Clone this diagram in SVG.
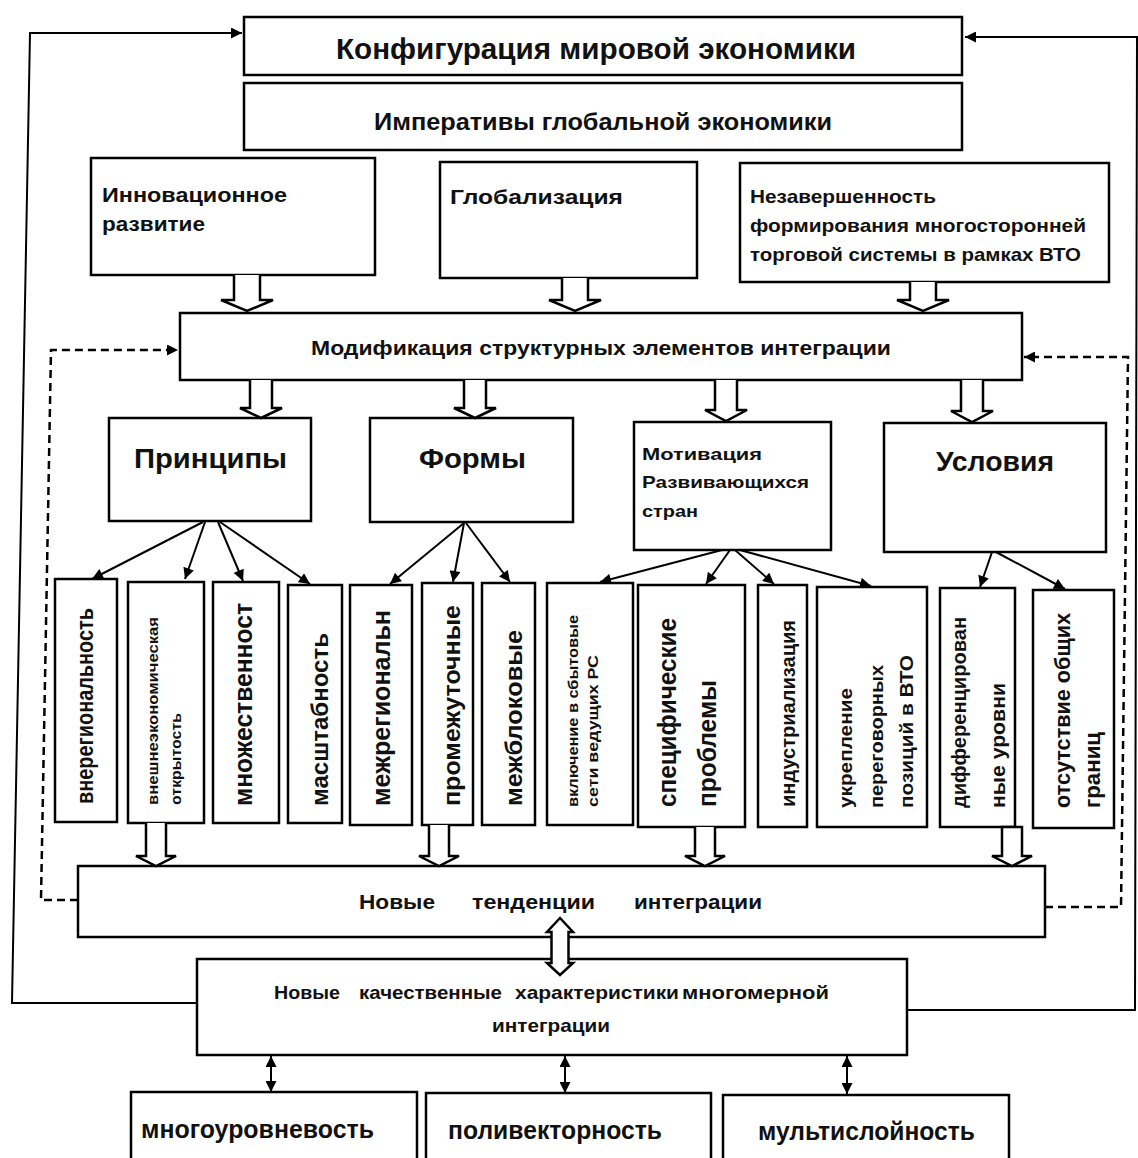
<svg xmlns="http://www.w3.org/2000/svg" width="1138" height="1158" viewBox="0 0 1138 1158">
<style>
.box{fill:#fff;stroke:#000;stroke-width:2.5}
.t{font-family:"Liberation Sans",Arial,sans-serif;font-weight:bold;fill:#111}
.ln{stroke:#000;stroke-width:2;fill:none}
.dash{stroke:#000;stroke-width:2.5;stroke-dasharray:8 5;fill:none}
.blk{fill:#fff;stroke:#000;stroke-width:2.5;stroke-linejoin:miter}
</style>
<defs>
<marker id="ah" viewBox="0 0 10 10" refX="10" refY="5" markerWidth="12" markerHeight="11" markerUnits="userSpaceOnUse" orient="auto-start-reverse"><path d="M0,0 L10,5 L0,10 z" fill="#000"/></marker>
</defs>
<rect width="1138" height="1158" fill="#fff"/>

<g id="connectors">
<path class="ln" d="M197,1003 L12,1003 L30,33 L242,33" marker-end="url(#ah)"/>
<path class="ln" d="M907,1010 L1135,1010 L1137,37 L965,37" marker-end="url(#ah)"/>
<path class="dash" d="M78,900 L41,900 L51,350 L178,350" marker-end="url(#ah)"/>
<path class="dash" d="M1045,907 L1121,907 L1128,357 L1024,357" marker-end="url(#ah)"/>
<line class="ln" x1="203" y1="522" x2="92" y2="579" marker-end="url(#ah)"/>
<line class="ln" x1="205" y1="522" x2="185" y2="579" marker-end="url(#ah)"/>
<line class="ln" x1="218" y1="522" x2="243" y2="581" marker-end="url(#ah)"/>
<line class="ln" x1="220" y1="522" x2="310" y2="584" marker-end="url(#ah)"/>
<line class="ln" x1="464" y1="523" x2="390" y2="584" marker-end="url(#ah)"/>
<line class="ln" x1="464" y1="523" x2="453" y2="582" marker-end="url(#ah)"/>
<line class="ln" x1="466" y1="523" x2="510" y2="582" marker-end="url(#ah)"/>
<line class="ln" x1="722" y1="550" x2="600" y2="582" marker-end="url(#ah)"/>
<line class="ln" x1="730" y1="550" x2="706" y2="584" marker-end="url(#ah)"/>
<line class="ln" x1="735" y1="550" x2="774" y2="584" marker-end="url(#ah)"/>
<line class="ln" x1="740" y1="550" x2="871" y2="586" marker-end="url(#ah)"/>
<line class="ln" x1="992" y1="552" x2="980" y2="587" marker-end="url(#ah)"/>
<line class="ln" x1="996" y1="552" x2="1065" y2="589" marker-end="url(#ah)"/>
<line class="ln" x1="271" y1="1056" x2="271" y2="1092" marker-start="url(#ah)" marker-end="url(#ah)"/>
<line class="ln" x1="565" y1="1056" x2="565" y2="1093" marker-start="url(#ah)" marker-end="url(#ah)"/>
<line class="ln" x1="847" y1="1056" x2="847" y2="1094" marker-start="url(#ah)" marker-end="url(#ah)"/>
</g>

<g id="n-config"><rect class="box" x="244" y="17" width="718" height="58"/>
<text class="t" x="596" y="59" font-size="29" text-anchor="middle" textLength="520" lengthAdjust="spacingAndGlyphs">Конфигурация мировой экономики</text></g>

<g id="n-imperatives"><rect class="box" x="244" y="83" width="718" height="67"/>
<text class="t" x="603" y="130" font-size="24" text-anchor="middle" textLength="458" lengthAdjust="spacingAndGlyphs">Императивы глобальной экономики</text></g>

<g id="n-innov"><rect class="box" x="91" y="158" width="284" height="117"/>
<text class="t" x="102" y="202" font-size="21" textLength="185" lengthAdjust="spacingAndGlyphs">Инновационное</text>
<text class="t" x="102" y="231" font-size="21" textLength="103" lengthAdjust="spacingAndGlyphs">развитие</text></g>

<g id="n-glob"><rect class="box" x="440" y="162" width="257" height="116"/>
<text class="t" x="450" y="204" font-size="21" textLength="173" lengthAdjust="spacingAndGlyphs">Глобализация</text></g>

<g id="n-wto"><rect class="box" x="740" y="163" width="369" height="119"/>
<text class="t" x="750" y="203" font-size="19" textLength="186" lengthAdjust="spacingAndGlyphs">Незавершенность</text>
<text class="t" x="750" y="232" font-size="19" textLength="336" lengthAdjust="spacingAndGlyphs">формирования многосторонней</text>
<text class="t" x="750" y="261" font-size="19" textLength="331" lengthAdjust="spacingAndGlyphs">торговой системы в рамках ВТО</text></g>

<g id="n-modif"><rect class="box" x="180" y="313" width="842" height="67"/>
<text class="t" x="311" y="355" font-size="20" textLength="580" lengthAdjust="spacingAndGlyphs">Модификация структурных элементов интеграции</text></g>

<g id="n-princ"><rect class="box" x="109" y="418" width="202" height="103"/>
<text class="t" x="134" y="468" font-size="28" textLength="153" lengthAdjust="spacingAndGlyphs">Принципы</text></g>

<g id="n-forms"><rect class="box" x="370" y="418" width="203" height="104"/>
<text class="t" x="419" y="468" font-size="28" textLength="107" lengthAdjust="spacingAndGlyphs">Формы</text></g>

<g id="n-motiv"><rect class="box" x="634" y="422" width="197" height="128"/>
<text class="t" x="642" y="460" font-size="17" textLength="120" lengthAdjust="spacingAndGlyphs">Мотивация</text>
<text class="t" x="642" y="488" font-size="17" textLength="167" lengthAdjust="spacingAndGlyphs">Развивающихся</text>
<text class="t" x="642" y="517" font-size="17" textLength="56" lengthAdjust="spacingAndGlyphs">стран</text></g>

<g id="n-cond"><rect class="box" x="884" y="423" width="222" height="129"/>
<text class="t" x="936" y="471" font-size="27" textLength="118" lengthAdjust="spacingAndGlyphs">Условия</text></g>

<g id="v1"><rect class="box" x="55" y="579" width="62" height="243"/>
<text class="t" transform="translate(93,804) rotate(-90)" font-size="24" textLength="196" lengthAdjust="spacingAndGlyphs">внерегиональность</text></g>
<g id="v2"><rect class="box" x="128" y="582" width="76" height="241"/>
<text class="t" transform="translate(158,805) rotate(-90)" font-size="15" textLength="188" lengthAdjust="spacingAndGlyphs">внешнеэкономическая</text>
<text class="t" transform="translate(181,805) rotate(-90)" font-size="15" textLength="92" lengthAdjust="spacingAndGlyphs">открытость</text></g>
<g id="v3"><rect class="box" x="213" y="582" width="66" height="241"/>
<text class="t" transform="translate(252,806) rotate(-90)" font-size="26" textLength="203" lengthAdjust="spacingAndGlyphs">множественност</text></g>
<g id="v4"><rect class="box" x="288" y="585" width="54" height="238"/>
<text class="t" transform="translate(328,806) rotate(-90)" font-size="24" textLength="173" lengthAdjust="spacingAndGlyphs">масштабность</text></g>
<g id="v5"><rect class="box" x="350" y="585" width="62" height="240"/>
<text class="t" transform="translate(390,806) rotate(-90)" font-size="26" textLength="196" lengthAdjust="spacingAndGlyphs">межрегиональн</text></g>
<g id="v6"><rect class="box" x="422" y="583" width="51" height="242"/>
<text class="t" transform="translate(460,806) rotate(-90)" font-size="24" textLength="201" lengthAdjust="spacingAndGlyphs">промежуточные</text></g>
<g id="v7"><rect class="box" x="482" y="583" width="53" height="242"/>
<text class="t" transform="translate(522,806) rotate(-90)" font-size="24" textLength="176" lengthAdjust="spacingAndGlyphs">межблоковые</text></g>
<g id="v8"><rect class="box" x="547" y="583" width="86" height="242"/>
<text class="t" transform="translate(578,807) rotate(-90)" font-size="14" textLength="192" lengthAdjust="spacingAndGlyphs">включение в сбытовые</text>
<text class="t" transform="translate(598,807) rotate(-90)" font-size="14" textLength="152" lengthAdjust="spacingAndGlyphs">сети   ведущих   РС</text></g>
<g id="v9"><rect class="box" x="638" y="585" width="107" height="242"/>
<text class="t" transform="translate(676,807) rotate(-90)" font-size="25" textLength="189" lengthAdjust="spacingAndGlyphs">специфические</text>
<text class="t" transform="translate(716,807) rotate(-90)" font-size="25" textLength="127" lengthAdjust="spacingAndGlyphs">проблемы</text></g>
<g id="v10"><rect class="box" x="758" y="585" width="49" height="242"/>
<text class="t" transform="translate(795,807) rotate(-90)" font-size="20" textLength="187" lengthAdjust="spacingAndGlyphs">индустриализация</text></g>
<g id="v11"><rect class="box" x="817" y="587" width="110" height="240"/>
<text class="t" transform="translate(852,808) rotate(-90)" font-size="19" textLength="120" lengthAdjust="spacingAndGlyphs">укрепление</text>
<text class="t" transform="translate(883,808) rotate(-90)" font-size="19" textLength="143" lengthAdjust="spacingAndGlyphs">переговорных</text>
<text class="t" transform="translate(913,808) rotate(-90)" font-size="19" textLength="153" lengthAdjust="spacingAndGlyphs">позиций в ВТО</text></g>
<g id="v12"><rect class="box" x="940" y="588" width="75" height="239"/>
<text class="t" transform="translate(966,808) rotate(-90)" font-size="21" textLength="191" lengthAdjust="spacingAndGlyphs">дифференцирован</text>
<text class="t" transform="translate(1005,808) rotate(-90)" font-size="21" textLength="125" lengthAdjust="spacingAndGlyphs">ные уровни</text></g>
<g id="v13"><rect class="box" x="1033" y="590" width="81" height="238"/>
<text class="t" transform="translate(1070,808) rotate(-90)" font-size="22" textLength="195" lengthAdjust="spacingAndGlyphs">отсутствие общих</text>
<text class="t" transform="translate(1100,808) rotate(-90)" font-size="22" textLength="76" lengthAdjust="spacingAndGlyphs">границ</text></g>

<g id="n-trends"><rect class="box" x="78" y="866" width="967" height="71"/>
<text class="t" x="359" y="909" font-size="21" textLength="76" lengthAdjust="spacingAndGlyphs">Новые</text>
<text class="t" x="472" y="909" font-size="21" textLength="123" lengthAdjust="spacingAndGlyphs">тенденции</text>
<text class="t" x="634" y="909" font-size="21" textLength="128" lengthAdjust="spacingAndGlyphs">интеграции</text></g>

<g id="n-quality"><rect class="box" x="197" y="959" width="710" height="96"/>
<text class="t" x="274" y="999" font-size="19" textLength="66" lengthAdjust="spacingAndGlyphs">Новые</text>
<text class="t" x="359" y="999" font-size="19" textLength="143" lengthAdjust="spacingAndGlyphs">качественные</text>
<text class="t" x="515" y="999" font-size="19" textLength="164" lengthAdjust="spacingAndGlyphs">характеристики</text>
<text class="t" x="682" y="999" font-size="19" textLength="147" lengthAdjust="spacingAndGlyphs">многомерной</text>
<text class="t" x="492" y="1032" font-size="19" textLength="118" lengthAdjust="spacingAndGlyphs">интеграции</text></g>

<g id="n-multilevel"><rect class="box" x="131" y="1092" width="286" height="90"/>
<text class="t" x="141" y="1138" font-size="25" textLength="233" lengthAdjust="spacingAndGlyphs">многоуровневость</text></g>
<g id="n-multivector"><rect class="box" x="426" y="1093" width="285" height="90"/>
<text class="t" x="448" y="1139" font-size="25" textLength="214" lengthAdjust="spacingAndGlyphs">поливекторность</text></g>
<g id="n-multilayer"><rect class="box" x="723" y="1095" width="286" height="90"/>
<text class="t" x="758" y="1140" font-size="25" textLength="217" lengthAdjust="spacingAndGlyphs">мультислойность</text></g>

<g id="block-arrows">
<path class="blk" d="M234,275 L234,300 L221,300 L247,311 L273,300 L260,300 L260,275"/>
<path class="blk" d="M562,278 L562,300 L549,300 L575,311 L601,300 L588,300 L588,278"/>
<path class="blk" d="M910,282 L910,300 L897,300 L923,311 L949,300 L936,300 L936,282"/>
<path class="blk" d="M250,380 L250,408 L240,408 L261,418 L282,408 L272,408 L272,380"/>
<path class="blk" d="M464,380 L464,408 L454,408 L475,418 L496,408 L486,408 L486,380"/>
<path class="blk" d="M715,380 L715,410 L705,410 L726,421 L747,410 L737,410 L737,380"/>
<path class="blk" d="M961,380 L961,411 L951,411 L972,422 L993,411 L983,411 L983,380"/>
<path class="blk" d="M146,823 L146,856 L136,856 L156,866 L176,856 L166,856 L166,823"/>
<path class="blk" d="M429,825 L429,856 L419,856 L439,866 L459,856 L449,856 L449,825"/>
<path class="blk" d="M695,827 L695,856 L685,856 L705,866 L725,856 L715,856 L715,827"/>
<path class="blk" d="M1002,827 L1002,856 L992,856 L1012,866 L1032,856 L1022,856 L1022,827 Z"/>
<path class="blk" d="M560,918 L573,932 L568.5,932 L568.5,963 L573,963 L560,975 L547,963 L551.5,963 L551.5,932 L547,932 Z"/>
</g>
</svg>
